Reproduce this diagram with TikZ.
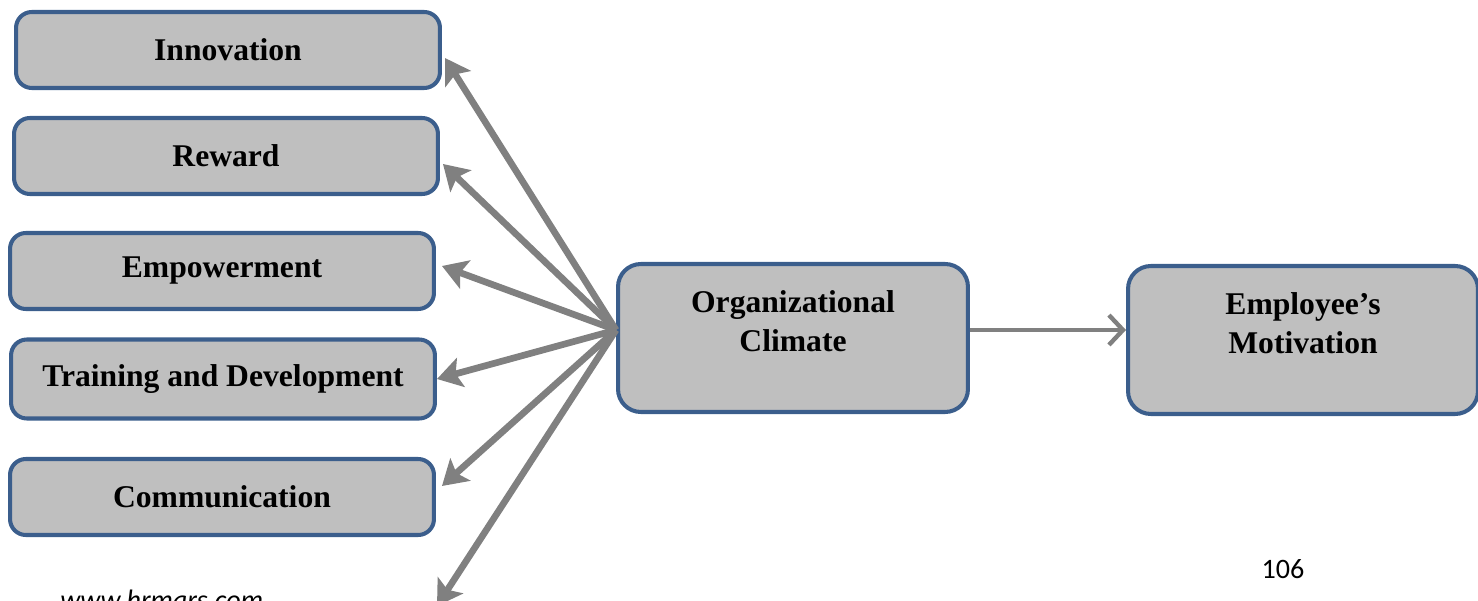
\documentclass[tikz,border=0pt]{standalone}
\usepackage{fontspec}
\setmainfont{Liberation Serif}
\newfontfamily\calibfont{Carlito}
\usepackage{xcolor}
\usepackage{tikz}
\usetikzlibrary{positioning,calc,arrows.meta}

\definecolor{boxgray}{RGB}{191,191,191}
\definecolor{boxblue}{RGB}{59,94,140}
\definecolor{arrowgray}{RGB}{128,128,128}

\begin{document}
\begin{tikzpicture}[x=0.02cm, y=-0.02cm,
    factor/.style={draw=boxblue, fill=boxgray, line width=2.3pt, rounded corners=9pt,
        minimum width=8.48cm, minimum height=1.52cm, inner sep=0pt,
        font=\fontsize{18}{22.5}\selectfont\bfseries, align=center},
    bigbox/.style={factor, minimum width=7.0cm, minimum height=2.96cm, rounded corners=13pt},
    link/.style={draw=arrowgray, line width=3.8pt, -{Stealth[length=14pt, width=17pt, inset=3pt]}},
    flow/.style={draw=arrowgray, line width=2.5pt, -{Straight Barb[length=8pt, width=17pt]}}]
    \useasboundingbox (0,0) rectangle (1478,601);

    % Climate factors
    \node[factor] (inno) at (228,50) {Innovation};
    \node[factor] (reward) at (226,156) {Reward};
    \node[factor] (empow) at (222,271) {Empowerment};
    \node[factor, minimum height=1.58cm] (train) at (223,379) {Training and Development};
    \node[factor] (comm) at (222,497) {Communication};

    % Climate and outcome
    \node[bigbox] (clim) at (793,338) {Organizational\\Climate\\[-3pt]~};
    \node[bigbox] (motiv) at (1303,340) {Employee’s\\Motivation\\[-3pt]~};
    \coordinate (hub) at ($(clim.west)+(0,-8)$);
    \coordinate (loose) at (437,606);

    % Links
    \draw[link] (hub) -- ($(inno.east)+(3,8)$);
    \draw[link] (hub) -- ($(reward.east)+(3,8)$);
    \draw[link] (hub) -- ($(empow.east)+(6,-5)$);
    \draw[link] (hub) -- (train.east);
    \draw[link] (hub) -- ($(comm.east)+(6,-11)$);
    \draw[link] (hub) -- (loose);
    \draw[flow] (clim.east |- 0,330) -- (motiv.west |- 0,330);

    \node[font=\calibfont\fontsize{16}{19}\selectfont] (page) at (1283,569) {106};
    \node[font=\calibfont\itshape\fontsize{16}{19}\selectfont, anchor=base west, inner sep=0pt] (site) at (60,609) {www.hrmars.com};
\end{tikzpicture}
\end{document}
